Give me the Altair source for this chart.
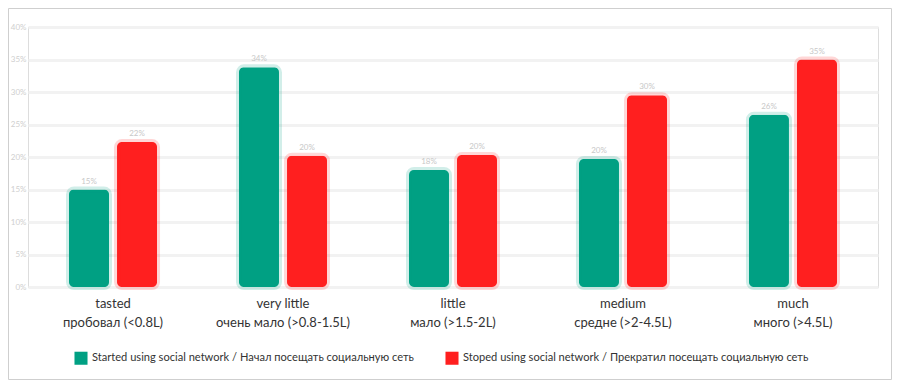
import altair as alt
import pandas as pd

categories = ["tasted\nпробовал (<0.8L)", "very little\nочень мало (>0.8-1.5L)",
              "little\nмало (>1.5-2L)", "medium\nсредне (>2-4.5L)", "much\nмного (>4.5L)"]
series = ["Started using social network / Начал посещать социальную сеть",
          "Stoped using social network / Прекратил посещать социальную сеть"]
started = [15.0, 33.8, 18.0, 19.7, 26.5]
stopped = [22.3, 20.2, 20.3, 29.5, 35.0]
y_ticks = [0, 5, 10, 15, 20, 25, 30, 35, 40]
colors = ["#00A083", "#FF1F1F"]

rows = []
for i, c in enumerate(categories):
    rows.append({"cat": c, "series": series[0], "order": 0, "value": started[i]})
    rows.append({"cat": c, "series": series[1], "order": 1, "value": stopped[i]})
df = pd.DataFrame(rows)
df["label"] = df["value"].round(0).astype(int).astype(str) + "%"

FONT = "Lato"

x = alt.X("cat:N", sort=categories, title=None,
          scale=alt.Scale(paddingInner=0.435, paddingOuter=0.2176),
          axis=alt.Axis(labelExpr="split(datum.label, '\\n')", labelAngle=0,
                        labelFontSize=13, labelColor="#333333", labelFont=FONT,
                        labelLineHeight=19, labelPadding=10, ticks=False, domain=False,
                        labelBaseline="top"))
xo = alt.XOffset("series:N", sort=series)
y = alt.Y("value:Q", title=None,
          scale=alt.Scale(domain=[0, 40], nice=False),
          axis=alt.Axis(values=y_ticks, format="d", labelExpr="datum.value + '%'",
                        labelColor="#cfcfcf", labelFontSize=8, labelFont=FONT,
                        gridColor="#f2f2f2", gridWidth=3, domain=False, ticks=False,
                        labelPadding=2))
col = alt.Color("series:N", sort=series, scale=alt.Scale(domain=series, range=colors),
                legend=alt.Legend(title=None, orient="none", legendX=46, legendY=324,
                                  direction="horizontal", symbolType="square",
                                  symbolSize=170, symbolStrokeWidth=0,
                                  labelFontSize=11.1, labelFont=FONT, labelColor="#333333",
                                  columnPadding=31, labelLimit=500, symbolOpacity=1,
                                  labelOffset=4))
stroke = alt.Stroke("series:N", sort=series, scale=alt.Scale(domain=series, range=colors),
                    legend=None)

base = alt.Chart(df)

glow = base.mark_bar(width=40, cornerRadius=5, strokeWidth=6, strokeOpacity=0.18,
                     fillOpacity=1).encode(x=x, xOffset=xo, y=y, color=col, stroke=stroke)

labels = base.mark_text(dy=-8, fontSize=8, color="#c8c8c8", font=FONT).encode(
    x=x, xOffset=xo, y=y, text="label:N")

frame = alt.Chart(alt.Data(values=[{"a": 1}])).mark_rect(
    filled=False, stroke="#cfcfcf", strokeWidth=1).encode(
    x=alt.value(-19.5), x2=alt.value(863.5), y=alt.value(-18.5), y2=alt.value(352.5))

chart = alt.layer(frame, glow, labels).properties(
    width=850, height=260,
    padding={"left": 20, "top": 19, "right": 14, "bottom": 93},
    autosize=alt.AutoSizeParams(type="none"),
).configure_view(stroke=None).configure(background="white")

chart.save("out.html", embed_options={"renderer": "svg", "actions": False})
